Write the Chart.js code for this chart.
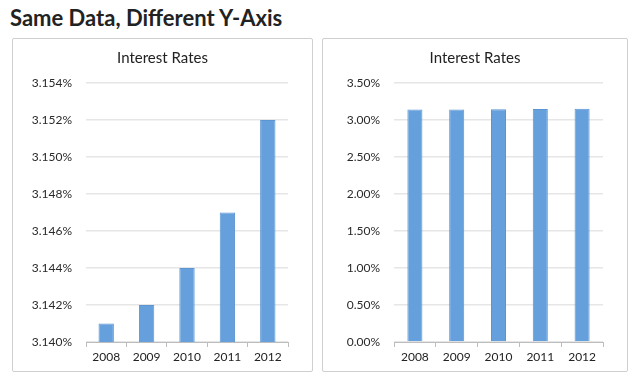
<!DOCTYPE html>
<html>
<head>
<meta charset="utf-8">
<script src="https://cdn.jsdelivr.net/npm/chart.js@4"></script>
<style>
  body { margin: 0; background: #fff; font-family: Lato, sans-serif; }
  #title { position: absolute; left: 10px; top: 4px; font: bold 22px Lato, sans-serif; color: #222; }
  .panel { position: absolute; top: 38px; height: 332px; border: 1px solid #cfcfcf; border-radius: 2px; background: #fff; }
  #p1 { left: 12px; width: 299px; }
  #p2 { left: 322px; width: 304px; }
</style>
</head>
<body>
<div id="title">Same Data, Different Y-Axis</div>
<div class="panel" id="p1"><canvas id="c1" width="299" height="332"></canvas></div>
<div class="panel" id="p2"><canvas id="c2" width="304" height="332"></canvas></div>
<script>
// ── DATA ─────────────────────────────────────────────────────────
const years = ['2008', '2009', '2010', '2011', '2012'];
const rates = [3.141, 3.142, 3.144, 3.147, 3.152];   // percent
const zoomedTicks = [3.140, 3.154, 0.002];          // min, max, step
const fullTicks = [0, 3.5, 0.5];

const BAR = '#65a0dd';

// empty right axis just reserves the gap on the right, title stays centred on the panel
function makeChart(id, range, decimals, yWidth, barPct) {
  return new Chart(document.getElementById(id), {
    type: 'bar',
    data: {
      labels: years,
      datasets: [{
        data: rates,
        backgroundColor: BAR,
        borderColor: '#5b95d2',
        borderWidth: 1,
        barPercentage: barPct,
        categoryPercentage: 1,
      }],
    },
    options: {
      responsive: false,
      animation: false,
      layout: { padding: { left: 0, right: 0, top: 1, bottom: 0 } },
      plugins: {
        legend: { display: false },
        tooltip: { enabled: false },
        title: {
          display: true,
          text: 'Interest Rates',
          color: '#222',
          font: { family: 'Lato', size: 15, weight: 'normal' },
          padding: { top: 9, bottom: 16 },
        },
      },
      scales: {
        x: {
          grid: { drawOnChartArea: false, drawTicks: true, tickLength: 5, offset: true, color: '#bdbdbd' },
          border: { color: '#bdbdbd' },
          ticks: { color: '#222', font: { family: 'Lato', size: 12 }, padding: 3 },
          afterFit: s => { s.height = 29; },
        },
        y: {
          min: range[0],
          max: range[1],
          grid: { color: '#e6e6e6', drawTicks: false, lineWidth: 1.5 },
          border: { display: false },
          ticks: {
            stepSize: range[2],
            color: '#2a2a2a',
            font: { family: 'Lato', size: 12 },
            padding: 14,
            callback: v => v.toFixed(decimals) + '%',
          },
          afterFit: s => { s.width = yWidth; },
        },
        gap: {
          position: 'right',
          grid: { display: false },
          border: { display: false },
          ticks: { display: false },
          afterFit: s => { s.width = 24; },
        },
      },
    },
  });
}

makeChart('c1', zoomedTicks, 3, 73, 0.38);
makeChart('c2', fullTicks, 2, 71, 0.36);
</script>
</body>
</html>
